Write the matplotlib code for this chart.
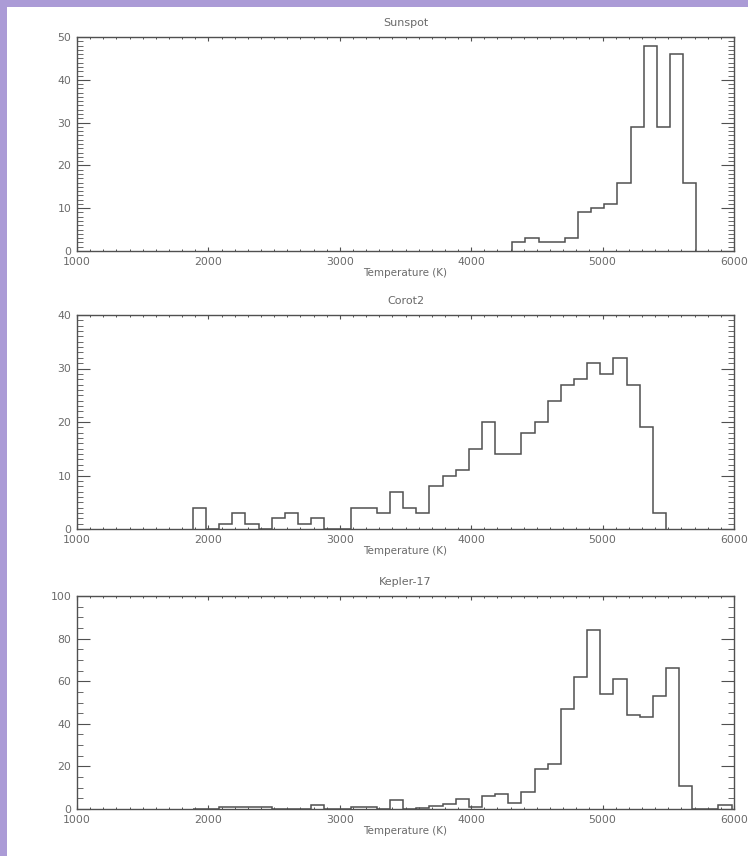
import numpy as np
import matplotlib
matplotlib.use("Agg")
import matplotlib.pyplot as plt
from matplotlib.patches import Rectangle
from matplotlib.ticker import MultipleLocator

# histogram counts, 100 K bins
sun_start = 4313
sun_counts = [2, 3, 2, 2, 3, 9, 10, 11, 16, 29, 48, 29, 46, 16]

corot_start = 1882
corot_counts = [4, 0, 1, 3, 1, 0, 2, 3, 1, 2, 0, 0, 4, 4, 3, 7, 4, 3,
                8, 10, 11, 15, 20, 14, 14, 18, 20, 24, 27, 28, 31, 29,
                32, 27, 19, 3]

kepler_start = 1882
kepler_counts = [0, 0, 1, 1, 1, 1, 0, 0, 0, 2, 0, 0, 1, 1, 0, 4, 0, 0.5,
                 1.2, 2.5, 4.7, 1, 6, 7, 3, 8, 19, 21, 47, 62, 84, 54, 61,
                 44, 43, 53, 66, 11, 0, 0, 2]

titles = ["Sunspot", "Corot2", "Kepler-17"]
ymaxes = [50, 40, 100]
ymajor = [10, 10, 20]
yminor = [1, 1, 5]
xlabel = "Temperature (K)"

W, H = 748, 856
fig = plt.figure(figsize=(W / 100, H / 100), dpi=100)
fig.patch.set_facecolor("#ab9bd6")
fig.patches.append(Rectangle((7 / W, 0), 1, 1 - 7 / H, transform=fig.transFigure,
                             facecolor="white", edgecolor="none", zorder=-10))

plt.rcParams["font.family"] = ["DejaVu Sans"]
txt = "#6a6a6a"
ln = "#505050"

# axes boxes in pixels: (top, bottom)
boxes = [(37, 251), (315, 529), (596, 809)]
left, right = 77, 734

data = [(sun_start, sun_counts), (corot_start, corot_counts), (kepler_start, kepler_counts)]

for i, ((top, bot), (start, counts)) in enumerate(zip(boxes, data)):
    ax = fig.add_axes([left / W, 1 - bot / H, (right - left) / W, (bot - top) / H])
    ax.set_facecolor("white")
    edges = start + 100 * np.arange(len(counts) + 1)
    ax.stairs(counts, edges, color=ln, lw=1.1)
    ax.set_xlim(1000, 6000)
    ax.set_ylim(0, ymaxes[i])
    ax.xaxis.set_major_locator(MultipleLocator(1000))
    ax.xaxis.set_minor_locator(MultipleLocator(100))
    ax.yaxis.set_major_locator(MultipleLocator(ymajor[i]))
    ax.yaxis.set_minor_locator(MultipleLocator(yminor[i]))
    ax.tick_params(axis="x", which="major", direction="in", length=3.0, width=0.8,
                   top=True, bottom=True, color=ln, labelsize=7.8, labelcolor=txt, pad=4)
    ax.tick_params(axis="x", which="minor", direction="in", length=1.5, width=0.7,
                   top=True, bottom=True, color=ln)
    ax.tick_params(axis="y", which="major", direction="in", length=9.5, width=0.8,
                   left=True, right=True, color=ln, labelsize=7.8, labelcolor=txt, pad=4)
    ax.tick_params(axis="y", which="minor", direction="in", length=4.5, width=0.6,
                   left=True, right=True, color=ln)
    for s in ax.spines.values():
        s.set_color(ln)
        s.set_linewidth(1.0)
    ax.set_title(titles[i], fontsize=8, color=txt, pad=8)
    ax.set_xlabel(xlabel, fontsize=7.5, color=txt, labelpad=1)

fig.savefig("out.png", dpi=100, facecolor=fig.get_facecolor())
